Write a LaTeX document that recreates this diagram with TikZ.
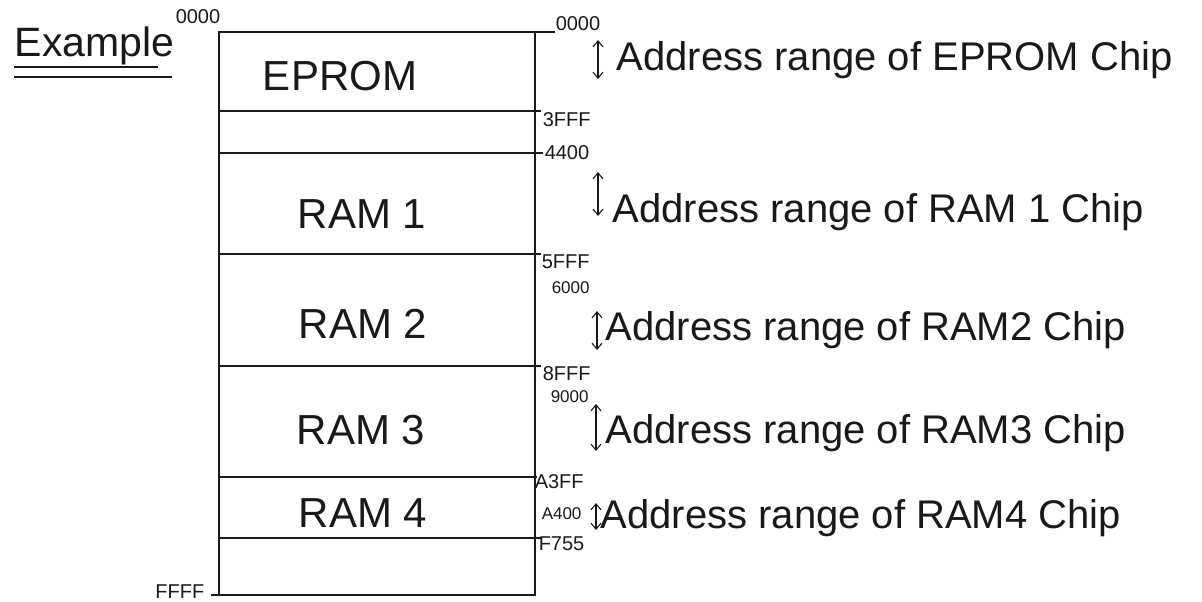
\documentclass[tikz,border=0pt]{standalone}
\usepackage{fontspec}
\setmainfont{Liberation Sans}
\usetikzlibrary{arrows.meta}
\begin{document}
\begin{tikzpicture}[x=1pt,y=-1pt,line width=1.5pt,color={black!90},
  region/.style={draw,minimum width=316pt,inner sep=0pt,outer sep=0pt,anchor=north west},
  boxtext/.style={font=\fontsize{42}{42}\selectfont,inner sep=0pt},
  desc/.style={font=\fontsize{40}{40}\selectfont,inner sep=0pt,anchor=west},
  addr/.style={font=\fontsize{20}{20}\selectfont,inner sep=0pt,anchor=west},
  saddr/.style={font=\fontsize{17}{17}\selectfont,inner sep=0pt,anchor=west},
  dar/.style={line width=1.1pt,{Straight Barb[length=6pt,width=10pt]}-{Straight Barb[length=6pt,width=10pt]}},
  tick/.style={line width=1.2pt}]
\useasboundingbox[fill=white] (0,0) rectangle (1202,602);
% title
\node[font=\fontsize{41}{41}\selectfont,inner sep=0pt,anchor=base west] (ex) at (14,57) {Example};
\node[addr,anchor=base west] (ex0) at (175,24) {0000};
\coordinate (u1a) at (14,67); \coordinate (u1b) at (158,67);
\coordinate (u2a) at (14,77); \coordinate (u2b) at (172,77);
\draw[line width=1.8pt] (u1a) -- (u1b);
\draw[line width=1.8pt] (u2a) -- (u2b);
% memory map
\node[region,minimum height=79pt] (eprom) at (219,32) {};
\node[region,minimum height=42pt] (gap1) at (eprom.south west) {};
\node[region,minimum height=101pt] (ram1) at (gap1.south west) {};
\node[region,minimum height=112pt] (ram2) at (ram1.south west) {};
\node[region,minimum height=111pt] (ram3) at (ram2.south west) {};
\node[region,minimum height=61pt] (ram4) at (ram3.south west) {};
\node[region,minimum height=57pt] (gap2) at (ram4.south west) {};
\node[boxtext] (teprom) at (340,76) {EPROM};
\node[boxtext] (tram1) at (362,214) {RAM 1};
\node[boxtext] (tram2) at (363,324) {RAM 2};
\node[boxtext] (tram3) at (361,430) {RAM 3};
\node[boxtext] (tram4) at (363,513) {RAM 4};
% address labels and ticks
\node[addr,anchor=base west] (a0) at (555,31) {0000};
\coordinate (k0) at ([xshift=20pt]eprom.north east);
\draw[tick] (eprom.north east) -- (k0);
\node[addr] (a1) at (542,120) {3FFF};
\coordinate (k1) at ([xshift=6pt]eprom.south east);
\draw[tick] (eprom.south east) -- (k1);
\node[addr] (a2) at (544,153) {4400};
\coordinate (k2) at ([xshift=8pt]gap1.south east);
\draw[tick] (gap1.south east) -- (k2);
\node[addr] (a3) at (541,262) {5FFF};
\coordinate (k3) at ([xshift=6pt]ram1.south east);
\draw[tick] (ram1.south east) -- (k3);
\node[saddr] (a4) at (551,288) {6000};
\node[addr] (a5) at (542,374) {8FFF};
\coordinate (k5) at ([xshift=6pt]ram2.south east);
\draw[tick] (ram2.south east) -- (k5);
\node[saddr] (a6) at (550,397) {9000};
\node[addr] (a7) at (534,482) {A3FF};
\coordinate (k7) at ([xshift=2pt]ram3.south east);
\draw[tick] (ram3.south east) -- (k7);
\node[saddr] (a8) at (541,514) {A400};
\node[addr] (a9) at (538,544) {F755};
\coordinate (k9) at ([xshift=6pt]ram4.south east);
\draw[tick] (ram4.south east) -- (k9);
\node[addr,anchor=east] (a10) at (205,592) {FFFF};
\coordinate (k10) at ([xshift=-8pt]gap2.south west);
\draw[tick] (gap2.south west) -- (k10);
% range arrows
\coordinate (r0a) at (598,40); \coordinate (r0b) at (598,79);
\coordinate (r1a) at (598,172); \coordinate (r1b) at (598,216);
\coordinate (r2a) at (597,311); \coordinate (r2b) at (597,350);
\coordinate (r3a) at (596,404); \coordinate (r3b) at (596,451);
\coordinate (r4a) at (596,503); \coordinate (r4b) at (596,530);
\draw[dar] (r0a) -- (r0b);
\draw[dar] (r1a) -- (r1b);
\draw[dar] (r2a) -- (r2b);
\draw[dar] (r3a) -- (r3b);
\draw[dar] (r4a) -- (r4b);
% descriptions
\node[desc] (d0) at (616,60) {Address range of EPROM Chip};
\node[desc] (d1) at (612,212) {Address range of RAM 1 Chip};
\node[desc] (d2) at (605,330) {Address range of RAM2 Chip};
\node[desc] (d3) at (605,433) {Address range of RAM3 Chip};
\node[desc] (d4) at (600,518) {Address range of RAM4 Chip};
\end{tikzpicture}
\end{document}
